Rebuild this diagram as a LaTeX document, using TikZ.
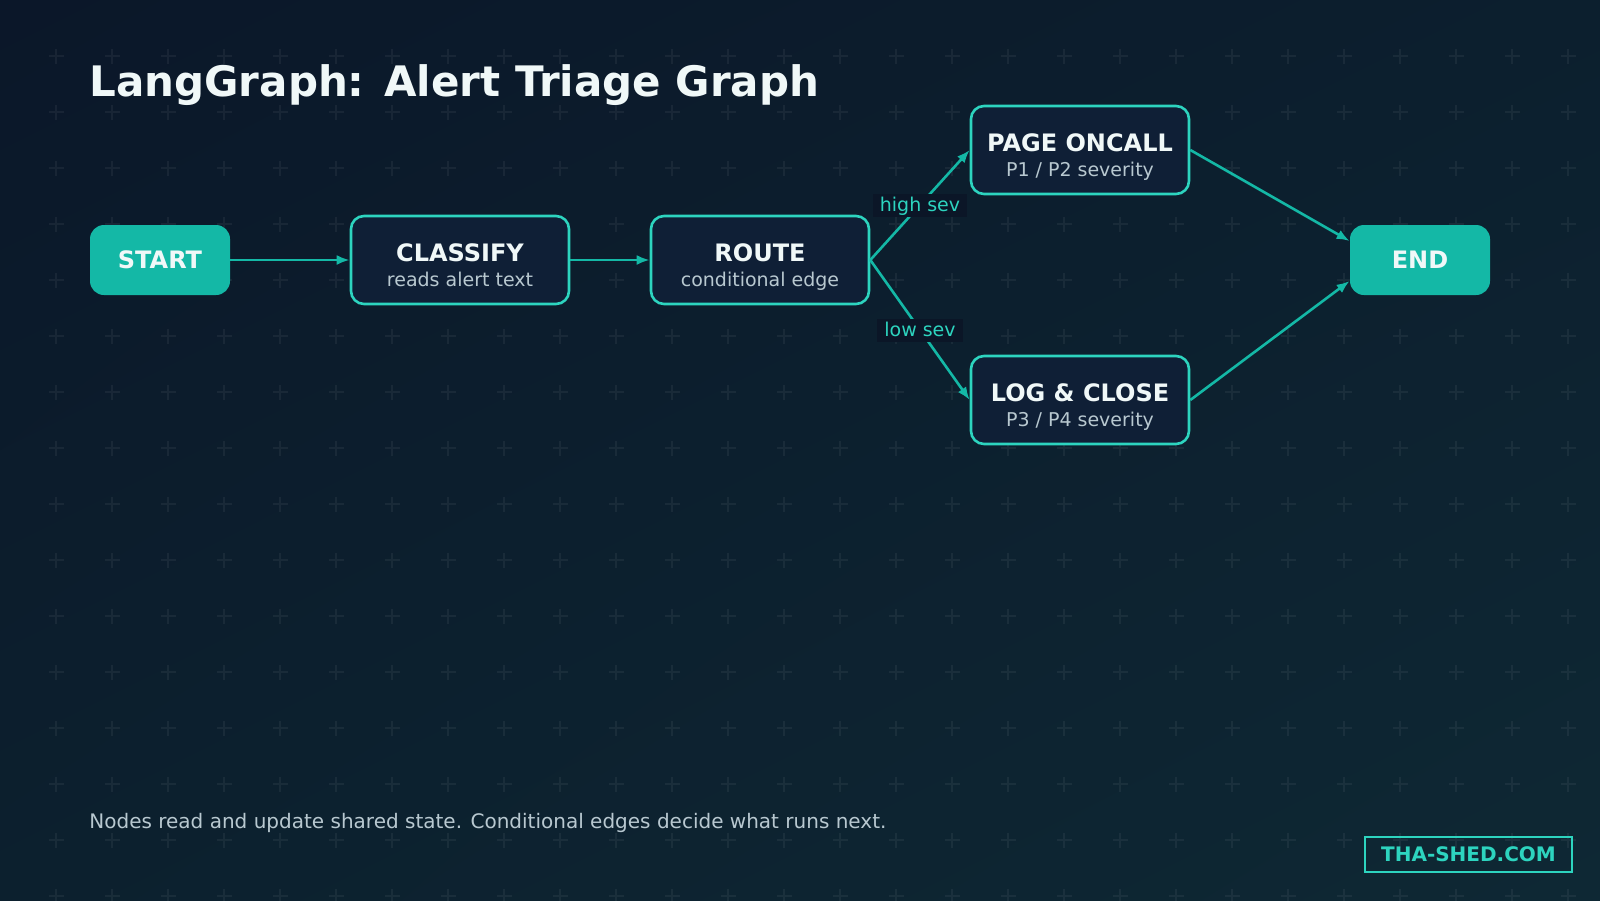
\documentclass[tikz,border=0pt]{standalone}
\usepackage{fontspec}
\setmainfont{DejaVu Sans}
\usetikzlibrary{arrows.meta}
\usetikzlibrary{shadings}

\definecolor{bgtl}{RGB}{11,23,41}
\definecolor{bgtr}{RGB}{12,31,46}
\definecolor{bgbl}{RGB}{12,32,46}
\definecolor{bgbr}{RGB}{14,40,52}
\definecolor{tealfill}{RGB}{20,184,166}
\definecolor{tealline}{RGB}{45,212,191}
\definecolor{boxfill}{RGB}{15,31,54}
\definecolor{labelbg}{RGB}{11,22,39}
\definecolor{titlewhite}{RGB}{240,248,248}
\definecolor{subgray}{RGB}{184,200,208}

\tikzset{
	gridplus/.style = {draw = white, opacity = 0.055, line width = 0.7pt},
	titletext/.style = {text = titlewhite, inner sep = 0pt, font = \bfseries\fontsize{21}{26}\selectfont},
	endpoint/.style = {fill = tealfill, rounded corners = 7pt, minimum width = 70pt, minimum height = 35pt, inner sep = 0pt, text = titlewhite, font = \bfseries\fontsize{12}{14}\selectfont},
	stepbox/.style = {draw = tealline, line width = 1.3pt, fill = boxfill, rounded corners = 6.5pt, minimum width = 109pt, minimum height = 44pt, inner sep = 0pt},
	steptitle/.style = {anchor = base, inner sep = 0pt, text = titlewhite, font = \bfseries\fontsize{12}{14}\selectfont},
	stepsub/.style = {anchor = base, inner sep = 0pt, text = subgray, font = \fontsize{9.5}{11}\selectfont},
	flow/.style = {draw = tealfill, line width = 1.3pt, -{Latex[length = 6.5pt, width = 5pt]}},
	sevlabel/.style = {fill = labelbg, text = tealline, inner xsep = 3.5pt, inner ysep = 0pt, text height = 7.2pt, text depth = 0.6pt, minimum height = 11.5pt, font = \fontsize{9.5}{11}\selectfont},
	foottext/.style = {anchor = base west, inner sep = 0pt, text = subgray, font = \fontsize{10}{12}\selectfont},
	brand/.style = {draw = tealline, line width = 1pt, minimum width = 103.5pt, minimum height = 17.5pt, inner sep = 0pt, text = tealline, font = \bfseries\fontsize{10}{12}\selectfont}
}

\begin{document}
\begin{tikzpicture}[x = 0.5pt, y = -0.5pt]
	\useasboundingbox (0,0) rectangle (1600,900);
	\shade [upper left = bgtl, upper right = bgtr, lower left = bgbl, lower right = bgbr] (0,0) rectangle (1600,900);
	
	\foreach \i in {1,...,28}
		\foreach \j in {1,...,16}
			\draw [gridplus] (56*\i-7.5,56*\j) -- ++(15,0) (56*\i,56*\j-7.5) -- ++(0,15);
	
	\node [titletext, anchor = base west] (title) at (89,96) {LangGraph: Alert Triage Graph};
	
	\node [endpoint] (start) at (160,260) {START};
	\node [endpoint] (finish) at (1420,260) {END};
	
	\node [stepbox] (classify) at (460,260) {};
	\node [steptitle] (classifyname) at ([yshift = -0.75pt]classify.center) {CLASSIFY};
	\node [stepsub] (classifysub) at ([yshift = -13.25pt]classify.center) {reads alert text};
	
	\node [stepbox] (route) at (760,260) {};
	\node [steptitle] (routename) at ([yshift = -0.75pt]route.center) {ROUTE};
	\node [stepsub] (routesub) at ([yshift = -13.25pt]route.center) {conditional edge};
	
	\node [stepbox] (page) at (1080,150) {};
	\node [steptitle] (pagename) at ([yshift = -0.75pt]page.center) {PAGE ONCALL};
	\node [stepsub] (pagesub) at ([yshift = -13.25pt]page.center) {P1 / P2 severity};
	
	\node [stepbox] (logclose) at (1080,400) {};
	\node [steptitle] (logclosename) at ([yshift = -0.75pt]logclose.center) {LOG \& CLOSE};
	\node [stepsub] (logclosesub) at ([yshift = -13.25pt]logclose.center) {P3 / P4 severity};
	
	\draw [flow] (start) -- (classify);
	\draw [flow] (classify) -- (route);
	\draw [flow] (route.east) -- node [sevlabel] (highsev) {high sev} (page.west);
	\draw [flow] (route.east) -- node [sevlabel] (lowsev) {low sev} (logclose.west);
	\draw [flow] (page.east) -- ([yshift = 9.5pt]finish.west);
	\draw [flow] (logclose.east) -- ([yshift = -10.5pt]finish.west);
	
	\node [foottext] (footer) at (89,828) {Nodes read and update shared state. Conditional edges decide what runs next.};
	\node [brand] (site) at (1468.5,854.5) {THA-SHED.COM};
\end{tikzpicture}
\end{document}
